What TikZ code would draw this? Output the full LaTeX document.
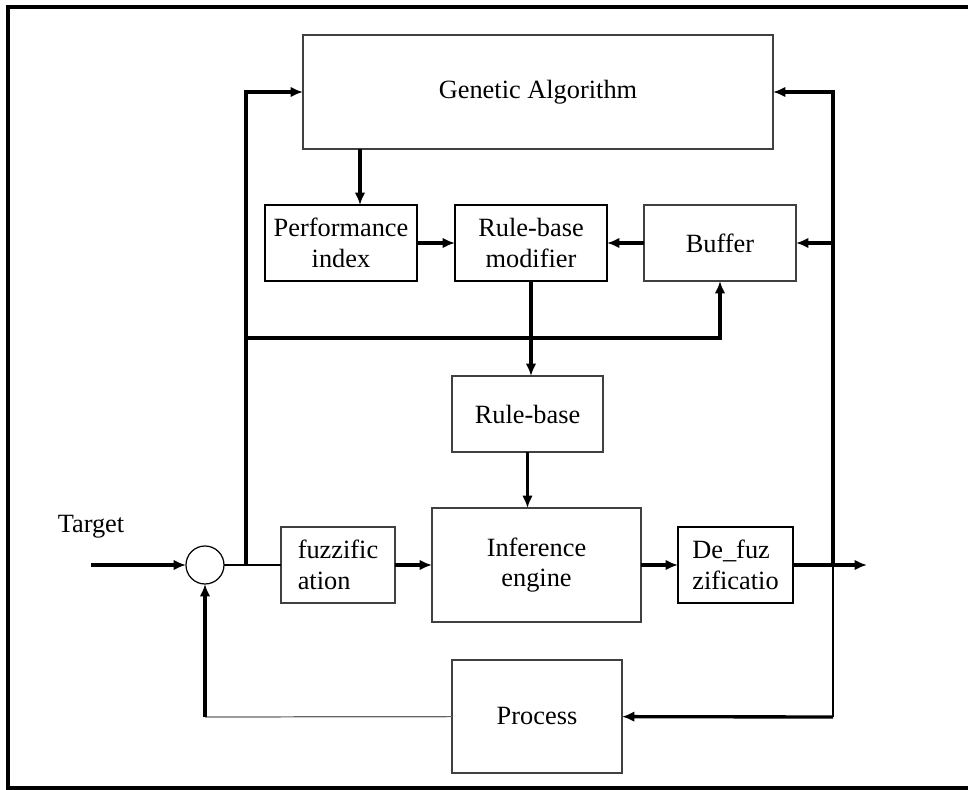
\documentclass[tikz,border=0pt]{standalone}
\usepackage{fontspec}
\setmainfont{Liberation Serif}
\usetikzlibrary{arrows.meta}

\begin{document}
\begin{tikzpicture}[x=0.02cm,y=-0.02cm]

\tikzset{block/.style = {shape=rectangle,draw=black!75,line width=0.7pt,inner sep=0pt,outer sep=0pt,align=center,font=\fontsize{15}{17.5}\selectfont}}
\tikzset{boldblock/.style = {block,draw=black,line width=1.1pt}}
\tikzset{edge/.style = {-{Latex[length=7pt,width=6pt]},line width=1.9pt}}
\tikzset{wire/.style = {line width=0.7pt}}
\useasboundingbox (0,0) rectangle (968,790);
\draw[line width=1.8pt] (980,7) -- (8,7) -- (8,788) -- (980,788);
% vertices
\node[block, minimum width=9.4cm, minimum height=2.28cm] (ga) at (538,92) {Genetic Algorithm};
\node[boldblock, minimum width=3.04cm, minimum height=1.52cm] (perf) at (341,243) {Performance\\index};
\node[boldblock, minimum width=3.04cm, minimum height=1.52cm] (mod) at (531,243) {Rule-base\\modifier};
\node[block, minimum width=3.04cm, minimum height=1.52cm] (buffer) at (720,243) {Buffer};
\node[block, minimum width=3.02cm, minimum height=1.52cm] (rb) at (527.5,414) {Rule-base};
\node[block, minimum width=4.18cm, minimum height=2.28cm] (inf) at (536.5,565) {Inference\\engine};
\node[block, minimum width=2.28cm, minimum height=1.52cm, align=left] (fuzz) at (338,565) {fuzzific\\ation};
\node[boldblock, minimum width=2.3cm, minimum height=1.52cm, align=left] (defuz) at (735.5,565) {De\_fuz\\zificatio};
\node[block, minimum width=3.4cm, minimum height=2.26cm] (proc) at (537,716.5) {Process};
\node[shape=circle, draw, line width=0.7pt, minimum size=0.76cm, inner sep=0pt, outer sep=0pt] (sum) at (205,565) {};
\node[font=\fontsize{15}{17.5}\selectfont] (target) at (91,527) {Target};
\coordinate (tin) at (91,565);
\coordinate (out) at (867,565);
\coordinate (jl) at (246,565);
\coordinate (jr) at (833,565);
\coordinate (tl) at (246,92);
\coordinate (tr) at (833,92);
\coordinate (ml) at (246,338);
\coordinate (br) at (833,717);
\coordinate (bl) at (205,717);
%edges
\draw[edge] (tin) -- (sum);
\draw[wire] (sum) -- (fuzz);
\draw[edge] (fuzz) -- (inf);
\draw[edge] (inf) -- (defuz);
\draw[edge] (defuz) -- (out);
\draw[edge] (jl) -- (tl) -- (ga);
\draw[edge] (ml) -| (buffer);
\draw[edge] ([xshift=0.38cm]perf.north |- ga.south) -- ([xshift=0.38cm]perf.north);
\draw[edge] (perf) -- (mod);
\draw[edge] (buffer) -- (mod);
\draw[edge] (mod.south) -- (mod.south |- rb.north);
\draw[edge] (rb.south) -- (rb.south |- inf.north);
\draw[edge] (jr) -- (tr) -- (ga);
\draw[edge] (jr |- buffer) -- (buffer);
\draw[wire] (jr) -- (br);
\draw[edge] (br) -- (proc);
\draw[wire, draw=black!60] (proc) -- (bl);
\draw[edge] (bl) -- (sum);
\end{tikzpicture}
\end{document}
